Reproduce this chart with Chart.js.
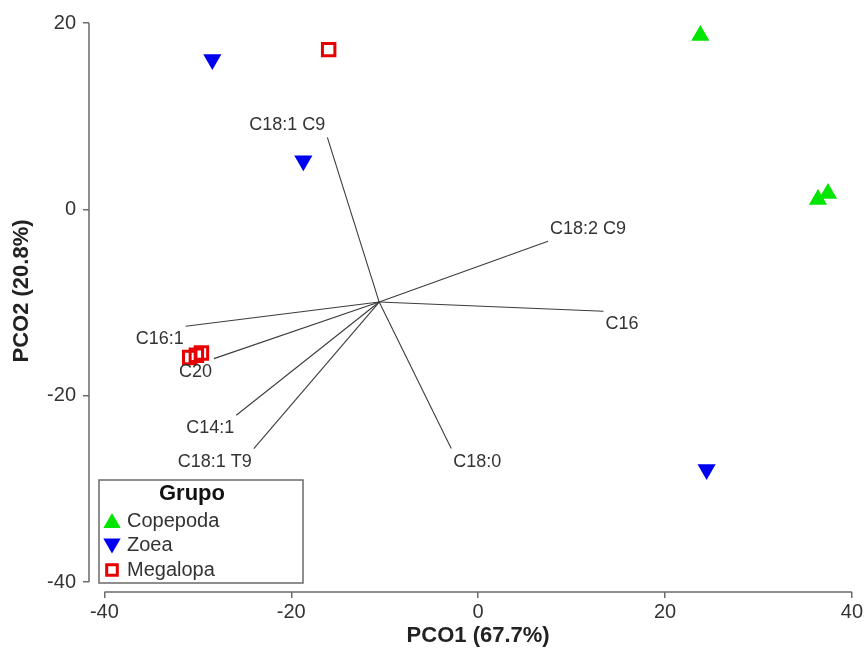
<!DOCTYPE html>
<html>
<head>
<meta charset="utf-8">
<script src="https://cdn.jsdelivr.net/npm/chart.js@4.4.1/dist/chart.umd.min.js"></script>
<style>
  html, body { margin: 0; padding: 0; background: #ffffff; }
  #wrap { width: 865px; height: 655px; }
</style>
</head>
<body>
<div id="wrap"><canvas id="pco"></canvas></div>
<script>
// PCO ordination scores per group
const groupNames = ['Copepoda', 'Zoea', 'Megalopa'];
const copepodaX = [23.78, 36.37, 37.44];
const copepodaY = [18.65, 1.05, 1.70];
const zoeaX = [-28.45, -18.71, 24.45];
const zoeaY = [16.08, 5.22, -27.91];
const megalopaX = [-16.0, -30.87, -30.16, -29.62];
const megalopaY = [17.14, -15.91, -15.67, -15.42];

// Fatty-acid vectors (end points; all start from the common origin)
const vectorNames = ['C18:1 C9', 'C18:2 C9', 'C16', 'C18:0', 'C16:1', 'C20', 'C14:1', 'C18:1 T9'];
const vectorX = [-16.14, 7.48, 13.42, -2.88, -31.30, -28.28, -25.89, -24.01];
const vectorY = [7.73, -3.43, -10.94, -25.68, -12.55, -16.02, -22.10, -25.68];
const vectorOrigin = [-10.59, -9.95];

// Axis ticks and text
const xTickValues = [-40, -20, 0, 20, 40];
const yTickValues = [-40, -20, 0, 20];
const xTitle = 'PCO1 (67.7%)';
const yTitle = 'PCO2 (20.8%)';
const legendTitle = 'Grupo';

const FONT = '"Liberation Sans", Arial, sans-serif';
const AXIS_COLOR = '#6a6a6a';
const TEXT_COLOR = '#333333';

const toPoints = (xs, ys) => xs.map((x, i) => ({ x: x, y: ys[i] }));

const groupStyles = [
  { pointStyle: 'triangle', rotation: 0,   radius: 10.5, fill: '#00e600', stroke: '#00e600', width: 0 },
  { pointStyle: 'triangle', rotation: 180, radius: 10.5, fill: '#0000f0', stroke: '#0000f0', width: 0 },
  { pointStyle: 'rect',     rotation: 0,   radius: 8.8,  fill: 'rgba(0,0,0,0)', stroke: '#e60000', width: 3 }
];
const groupData = [
  toPoints(copepodaX, copepodaY),
  toPoints(zoeaX, zoeaY),
  toPoints(megalopaX, megalopaY)
];

const pointSets = groupNames.map((name, i) => ({
  label: name,
  data: groupData[i],
  order: 0,
  showLine: false,
  pointStyle: groupStyles[i].pointStyle,
  rotation: groupStyles[i].rotation,
  pointRadius: groupStyles[i].radius,
  pointHoverRadius: groupStyles[i].radius,
  backgroundColor: groupStyles[i].fill,
  borderColor: groupStyles[i].stroke,
  borderWidth: groupStyles[i].width,
  isGroup: true
}));

const vectorSets = vectorNames.map((name, i) => ({
  label: name,
  data: [{ x: vectorOrigin[0], y: vectorOrigin[1] }, { x: vectorX[i], y: vectorY[i] }],
  order: 1,
  showLine: true,
  borderColor: '#3c3c3c',
  borderWidth: 1.1,
  pointRadius: 0,
  pointHoverRadius: 0,
  isVector: true
}));

// Detached axis lines, axis titles, vector labels and the group legend
const decorations = {
  id: 'decorations',
  beforeDatasetsDraw(chart) {
    const { ctx, chartArea, scales } = chart;
    const xs = scales.x, ys = scales.y;
    ctx.save();
    ctx.strokeStyle = AXIS_COLOR;
    ctx.lineWidth = 1.5;
    ctx.beginPath();
    ctx.moveTo(xs.getPixelForValue(xTickValues[0]), chartArea.bottom);
    ctx.lineTo(xs.getPixelForValue(xTickValues[xTickValues.length - 1]), chartArea.bottom);
    ctx.moveTo(chartArea.left, ys.getPixelForValue(yTickValues[yTickValues.length - 1]));
    ctx.lineTo(chartArea.left, ys.getPixelForValue(yTickValues[0]));
    ctx.stroke();

    ctx.fillStyle = '#222222';
    ctx.font = 'bold 22px ' + FONT;
    ctx.textAlign = 'center';
    ctx.textBaseline = 'middle';
    const xMid = (xs.getPixelForValue(xTickValues[0]) + xs.getPixelForValue(xTickValues[xTickValues.length - 1])) / 2;
    ctx.fillText(xTitle, xMid, 636);
    ctx.translate(22, 291);
    ctx.rotate(-Math.PI / 2);
    ctx.fillText(yTitle, 0, 0);
    ctx.restore();
  },
  afterDatasetsDraw(chart) {
    const { ctx } = chart;
    ctx.save();
    ctx.font = '18px ' + FONT;
    ctx.fillStyle = TEXT_COLOR;
    chart.data.datasets.forEach((ds, i) => {
      if (!ds.isVector) return;
      const pts = chart.getDatasetMeta(i).data;
      const o = pts[0], e = pts[1];
      const right = e.x >= o.x;
      const up = e.y <= o.y;
      ctx.textAlign = right ? 'left' : 'right';
      ctx.textBaseline = up ? 'bottom' : 'top';
      ctx.fillText(ds.label, e.x + (right ? 2 : -2), e.y + (up ? -3 : 4));
    });

    // legend box
    const box = { left: 99, top: 480, right: 303, bottom: 583 };
    ctx.fillStyle = '#ffffff';
    ctx.fillRect(box.left, box.top, box.right - box.left, box.bottom - box.top);
    ctx.strokeStyle = AXIS_COLOR;
    ctx.lineWidth = 1.5;
    ctx.strokeRect(box.left, box.top, box.right - box.left, box.bottom - box.top);
    ctx.fillStyle = '#111111';
    ctx.font = 'bold 22px ' + FONT;
    ctx.textAlign = 'center';
    ctx.textBaseline = 'middle';
    ctx.fillText(legendTitle, 192, 494);
    ctx.font = '20px ' + FONT;
    ctx.textAlign = 'left';
    chart.data.datasets.forEach((ds, i) => {
      if (!ds.isGroup) return;
      const cy = 521 + i * 24.5;
      const style = groupStyles[i];
      const isRect = style.pointStyle === 'rect';
      ctx.fillStyle = style.fill;
      ctx.strokeStyle = style.stroke;
      ctx.lineWidth = style.width;
      Chart.helpers.drawPoint(ctx, {
        pointStyle: style.pointStyle,
        rotation: style.rotation,
        radius: isRect ? 7.5 : 10,
        borderWidth: style.width
      }, 112, cy + (isRect ? 0 : (style.rotation ? -2 : 2)));
      ctx.fillStyle = TEXT_COLOR;
      ctx.fillText(ds.label, 127, cy);
    });
    ctx.restore();
  }
};

const baseTicks = {
  font: { family: FONT, size: 20 },
  color: TEXT_COLOR,
  autoSkip: false,
  maxRotation: 0,
  callback: v => String(v)
};
const baseGrid = {
  display: true,
  drawOnChartArea: false,
  drawTicks: true,
  tickLength: 6,
  color: AXIS_COLOR,
  lineWidth: 1.5
};

new Chart(document.getElementById('pco'), {
  type: 'scatter',
  data: { datasets: pointSets.concat(vectorSets) },
  options: {
    responsive: true,
    maintainAspectRatio: false,
    animation: false,
    events: [],
    layout: { padding: { top: 23, right: 11, left: 0, bottom: 0 } },
    plugins: { legend: { display: false }, tooltip: { enabled: false } },
    scales: {
      x: {
        type: 'linear',
        min: -41.65,
        max: 40,
        afterBuildTicks: s => { s.ticks = xTickValues.map(v => ({ value: v })); },
        afterFit: s => { s.height = 63; },
        grid: baseGrid,
        border: { display: false },
        ticks: Object.assign({}, baseTicks, { padding: 2 })
      },
      y: {
        type: 'linear',
        min: -41.07,
        max: 20,
        afterBuildTicks: s => { s.ticks = yTickValues.map(v => ({ value: v })); },
        afterFit: s => { s.width = 89; },
        grid: baseGrid,
        border: { display: false },
        ticks: Object.assign({}, baseTicks, { padding: 7 })
      }
    }
  },
  plugins: [decorations]
});
</script>
</body>
</html>
